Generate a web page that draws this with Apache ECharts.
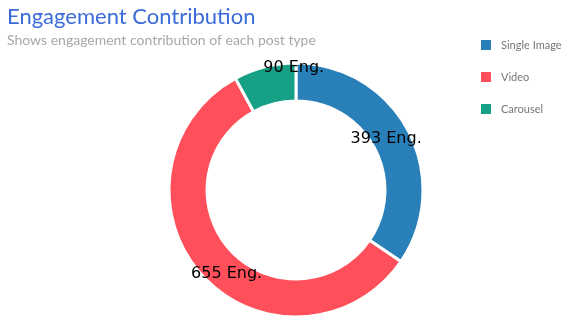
<!DOCTYPE html>
<html>
<head>
<meta charset="utf-8">
<script src="https://cdn.jsdelivr.net/npm/echarts@6/dist/echarts.min.js"></script>
<style>
  html, body { margin: 0; padding: 0; background: #ffffff; }
  #chart { width: 568px; height: 327px; }
</style>
</head>
<body>
<div id="chart"></div>
<script>
// Post types and their engagement totals
const postTypes = ['Single Image', 'Video', 'Carousel'];
const engagement = [393, 655, 90];
const sliceColors = ['#2980b9', '#ff4f5a', '#16a085'];

// Nudges for each slice label away from the ring's mid-radius
const labelNudge = [[-8, 1], [13, 9], [25, -15]];

const chart = echarts.init(document.getElementById('chart'));

chart.setOption({
  animation: false,
  title: {
    text: 'Engagement Contribution',
    subtext: 'Shows engagement contribution of each post type',
    left: 2,
    top: 1,
    itemGap: 5,
    textStyle: { fontFamily: 'Lato', fontSize: 22, fontWeight: 'normal', color: '#3a6bd8' },
    subtextStyle: { fontFamily: 'Lato', fontSize: 14, color: '#a8a8a8' }
  },
  legend: {
    orient: 'vertical',
    left: 474,
    top: 33,
    itemWidth: 12,
    itemHeight: 12,
    itemGap: 18,
    icon: 'rect',
    data: postTypes,
    textStyle: { fontFamily: 'Lato', fontSize: 11, color: '#777777', padding: [0, 0, 0, 4] }
  },
  series: [{
    type: 'pie',
    center: [296, 190],
    radius: [89, 127],
    startAngle: 90,
    clockwise: true,
    avoidLabelOverlap: false,
    itemStyle: { borderColor: '#ffffff', borderWidth: 3 },
    label: {
      show: true,
      position: 'inside',
      formatter: '{c} Eng.',
      fontFamily: 'DejaVu Sans',
      fontSize: 16,
      color: '#000000'
    },
    labelLine: { show: false },
    emphasis: { disabled: true },
    data: postTypes.map((name, i) => ({
      name,
      value: engagement[i],
      itemStyle: { color: sliceColors[i] },
      label: { offset: labelNudge[i] }
    }))
  }]
});
</script>
</body>
</html>
